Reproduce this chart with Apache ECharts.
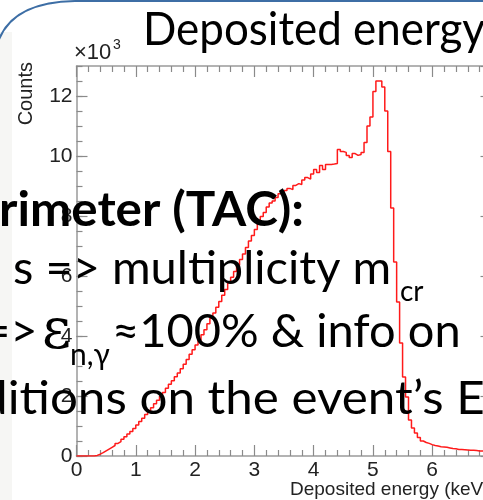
<!DOCTYPE html>
<html><head><meta charset="utf-8">
<script src="https://cdn.jsdelivr.net/npm/echarts@6/dist/echarts.min.js"></script>
<style>html,body{margin:0;padding:0;background:#fff}#c{width:483px;height:500px}</style>
</head><body><div id="c"></div>
<script>
// Histogram: deposited energy (keV), bin width 0.05 keV starting at 0
const binStart = 0;
const binWidth = 0.05;
const counts = [
  0, 0, 0, 0, 0, 0, 20, 60, 110, 170,
  230, 290, 350, 420, 480, 560, 640, 730, 820, 920,
  1030, 1150, 1260, 1380, 1500, 1610, 1740, 1860, 1990, 2120,
  2260, 2390, 2510, 2640, 2770, 2910, 3060, 3220, 3390, 3540,
  3700, 3860, 4040, 4210, 4410, 4590, 4770, 4960, 5150, 5360,
  5550, 5770, 5960, 6150, 6360, 6550, 6730, 6950, 7170, 7350,
  7550, 7800, 7980, 8120, 8300, 8430, 8500, 8620, 8740, 8780,
  8850, 8920, 8880, 9020, 9080, 9050, 9200, 9280, 9230, 9400,
  9550, 9450, 9680, 9550, 9720, 9720, 9730, 9750, 10220, 10150,
  10120, 10020, 9950, 10080, 10020, 10050, 10120, 10450, 11000, 11300,
  12150, 12500, 12500, 12300, 11500, 10150, 8270, 6470, 5130, 3770,
  2630, 1970, 1200, 930, 770, 620, 500, 450, 420, 380,
  350, 330, 310, 300, 290, 270, 250, 240, 220, 220,
  210, 200, 190, 190, 180, 170, 170, 160, 160, 150
];
const xTickLabels = ['0', '1', '2', '3', '4', '5', '6', '7'];
const yTickLabels = ['0', '2', '4', '6', '8', '10', '12'];
const xTitle = 'Deposited energy (keV)';
const yTitle = 'Counts';
const slideTitle = 'Deposited energy';

const data = counts.map((c, i) => [binStart + i * binWidth, c]);
data.push([binStart + counts.length * binWidth, counts[counts.length - 1]]);

const axisGray = '#9a9a9a';
const tickGray = '#8a8a8a';
const labelFont = 'Liberation Sans, Arial, sans-serif';
const slideFont = 'Lato, "DejaVu Sans", sans-serif';

const chart = echarts.init(document.getElementById('c'));
const xBase = {
  type: 'value', min: 0, max: 7, interval: 1,
  axisLine: { show: true, onZero: false, lineStyle: { color: axisGray, width: 1.5 } },
  axisTick: { show: true, inside: true, length: 11, lineStyle: { color: tickGray, width: 1.2 } },
  minorTick: { show: true, splitNumber: 5, length: 6, lineStyle: { color: tickGray, width: 1.2 } },
  splitLine: { show: false }, minorSplitLine: { show: false }
};
const yBase = {
  type: 'value', min: 0, max: 13000,
  axisLine: { show: true, onZero: false, lineStyle: { color: axisGray, width: 1.5 } },
  splitLine: { show: false }, minorSplitLine: { show: false }
};
const txt = (x, y, text, size, extra, sx) => ({
  type: 'text', z: 100, x: x, y: y, scaleX: sx || 1,
  style: Object.assign({ text: text, fontSize: size, fontFamily: slideFont, fill: '#000', align: 'left', verticalAlign: 'middle' }, extra || {})
});
chart.setOption({
  animation: false,
  backgroundColor: '#ffffff',
  grid: { left: 76.5, top: 66, width: 415, height: 390, containLabel: false, outerBoundsMode: 'none' },
  xAxis: [
    Object.assign({}, xBase, {
      position: 'bottom',
      axisLabel: { show: true, fontSize: 21, color: '#222', fontFamily: labelFont, margin: 4, showMaxLabel: false,
        formatter: v => xTickLabels[Math.round(v)] }
    }),
    Object.assign({}, xBase, { position: 'top', axisLabel: { show: false } })
  ],
  yAxis: [
    Object.assign({}, yBase, {
      position: 'left', interval: 2000,
      axisTick: { show: true, inside: true, length: 11, lineStyle: { color: tickGray, width: 1.2 } },
      axisLabel: { show: true, fontSize: 21, color: '#222', fontFamily: labelFont, margin: 4, showMaxLabel: false,
        formatter: v => (v % 2000 === 0 && v <= 12000) ? yTickLabels[v / 2000] : '' }
    }),
    Object.assign({}, yBase, {
      position: 'left', interval: 500, axisLine: { show: false },
      axisTick: { show: true, inside: true, length: 6, lineStyle: { color: tickGray, width: 1.2 } },
      axisLabel: { show: false }
    }),
    Object.assign({}, yBase, {
      position: 'right', interval: 2000,
      axisTick: { show: true, inside: true, length: 11, lineStyle: { color: tickGray, width: 1.2 } },
      axisLabel: { show: false }
    })
  ],
  series: [{
    type: 'line', step: 'end', xAxisIndex: 0, yAxisIndex: 0,
    data: data, showSymbol: false, symbol: 'none',
    lineStyle: { color: '#ff1a1a', width: 1.5 }, clip: true, z: 3
  }],
  graphic: [
    { type: 'rect', silent: true, z: -10, shape: { x: 0, y: 32, width: 12, height: 468 }, style: { fill: '#f6f6f4' } },
    { type: 'bezierCurve', silent: true, z: 50, shape: { x1: -2, y1: 42, cpx1: 12, cpy1: 2, x2: 75, y2: 1 },
      style: { fill: null, stroke: '#3d6ea5', lineWidth: 2 } },
    { type: 'line', silent: true, z: 50, shape: { x1: 75, y1: 1, x2: 490, y2: 1 },
      style: { stroke: '#3d6ea5', lineWidth: 2 } },
    // axis titles
    { type: 'text', z: 50, x: 290, y: 490, style: { text: xTitle, fontSize: 19, fontFamily: labelFont, fill: '#222', align: 'left', verticalAlign: 'middle' } },
    { type: 'text', z: 50, x: 26, y: 62, rotation: Math.PI / 2, style: { text: yTitle, fontSize: 20, fontFamily: labelFont, fill: '#222', align: 'right', verticalAlign: 'middle' } },
    { type: 'text', z: 50, x: 74, y: 53, style: { text: '×10', fontSize: 22, fontFamily: labelFont, fill: '#222', align: 'left', verticalAlign: 'middle' } },
    { type: 'text', z: 50, x: 113, y: 45, style: { text: '3', fontSize: 14, fontFamily: labelFont, fill: '#222', align: 'left', verticalAlign: 'middle' } },
    // slide overlay text
    txt(143, 30, slideTitle, 46, null, 0.955),
    txt(-1, 211, 'rimeter (TAC):', 47, { fontWeight: 'bold' }, 1.05),
    txt(13, 269, 's => multiplicity m', 47),
    txt(400, 292, 'cr', 28),
    txt(-17, 332, '=>', 47),
    txt(42, 333, 'ε', 56, { fontFamily: '"DejaVu Serif", serif' }),
    txt(70, 355, 'n,γ', 30),
    txt(112, 332, '≈100% & info on', 47),
    txt(-20, 399, 'ditions on the event’s E', 47, null, 1.05)
  ]
});
</script>
</body></html>
